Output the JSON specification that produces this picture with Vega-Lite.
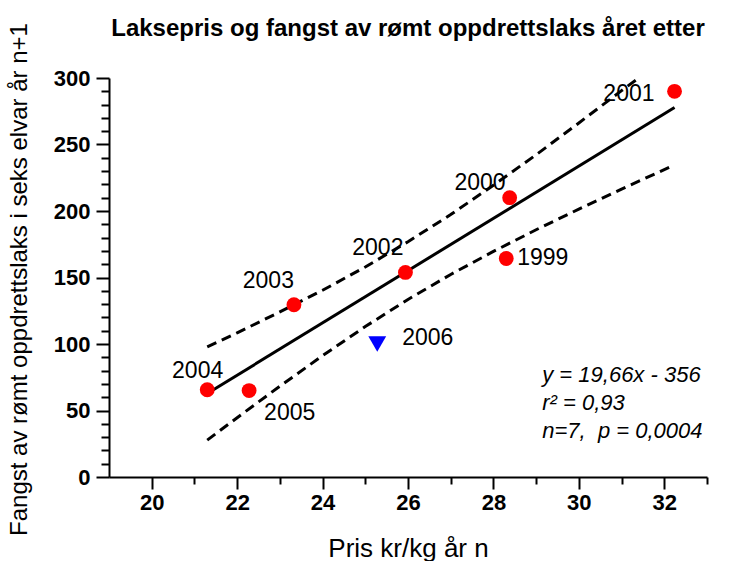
{
  "$schema": "https://vega.github.io/schema/vega-lite/v6.json",
  "width": 598,
  "height": 399,
  "autosize": {"type": "none"},
  "padding": {"left": 109, "top": 78, "right": 31, "bottom": 84},
  "background": "white",
  "title": {
    "text": "Laksepris og fangst av rømt oppdrettslaks året etter",
    "font": "Liberation Sans",
    "fontSize": 24,
    "fontWeight": "bold",
    "color": "black",
    "anchor": "middle",
    "frame": "group",
    "baseline": "alphabetic",
    "offset": -37
  },
  "config": {
    "view": {"stroke": null},
    "axis": {
      "grid": false,
      "domainColor": "black",
      "domainWidth": 2,
      "tickColor": "black",
      "tickWidth": 2,
      "labelColor": "black",
      "labelFont": "Liberation Sans",
      "labelFontWeight": "bold",
      "labelFontSize": 22,
      "labelOverlap": false,
      "titleFont": "Liberation Sans",
      "titleFontWeight": "normal",
      "titleColor": "black"
    }
  },
  "datasets": {
    "points": [
      {"year": "1999", "pris": 28.30, "fangst": 164.3, "gruppe": "1999-2005"},
      {"year": "2000", "pris": 28.38, "fangst": 210.0, "gruppe": "1999-2005"},
      {"year": "2001", "pris": 32.24, "fangst": 290.0, "gruppe": "1999-2005"},
      {"year": "2002", "pris": 25.94, "fangst": 153.8, "gruppe": "1999-2005"},
      {"year": "2003", "pris": 23.33, "fangst": 129.5, "gruppe": "1999-2005"},
      {"year": "2004", "pris": 21.30, "fangst": 65.6, "gruppe": "1999-2005"},
      {"year": "2005", "pris": 22.28, "fangst": 65.0, "gruppe": "1999-2005"},
      {"year": "2006", "pris": 25.28, "fangst": 100.0, "gruppe": "2006"}
    ],
    "fit": [
      {"pris": 21.30, "fangst": 62.8},
      {"pris": 32.24, "fangst": 277.8}
    ],
    "band": [
      {"pris": 21.3, "fangst": 97.9, "grense": "upper"},
      {"pris": 22, "fangst": 108.4, "grense": "upper"},
      {"pris": 23, "fangst": 124.1, "grense": "upper"},
      {"pris": 24, "fangst": 140.4, "grense": "upper"},
      {"pris": 25, "fangst": 157.9, "grense": "upper"},
      {"pris": 26, "fangst": 176.9, "grense": "upper"},
      {"pris": 27, "fangst": 197.3, "grense": "upper"},
      {"pris": 28, "fangst": 219.4, "grense": "upper"},
      {"pris": 29, "fangst": 242.3, "grense": "upper"},
      {"pris": 30, "fangst": 266.2, "grense": "upper"},
      {"pris": 31, "fangst": 290.5, "grense": "upper"},
      {"pris": 31.4, "fangst": 300.0, "grense": "upper"},
      {"pris": 21.3, "fangst": 27.7, "grense": "lower"},
      {"pris": 22, "fangst": 44.6, "grense": "lower"},
      {"pris": 23, "fangst": 68.3, "grense": "lower"},
      {"pris": 24, "fangst": 91.2, "grense": "lower"},
      {"pris": 25, "fangst": 113.1, "grense": "lower"},
      {"pris": 26, "fangst": 133.5, "grense": "lower"},
      {"pris": 27, "fangst": 152.3, "grense": "lower"},
      {"pris": 28, "fangst": 169.6, "grense": "lower"},
      {"pris": 29, "fangst": 185.9, "grense": "lower"},
      {"pris": 30, "fangst": 201.4, "grense": "lower"},
      {"pris": 31, "fangst": 216.5, "grense": "lower"},
      {"pris": 32, "fangst": 231.1, "grense": "lower"},
      {"pris": 32.24, "fangst": 234.6, "grense": "lower"}
    ]
  },
  "encoding": {
    "x": {
      "field": "pris",
      "type": "quantitative",
      "title": "Pris kr/kg år n",
      "scale": {"domain": [19, 33], "nice": false, "zero": false},
      "axis": {
        "titleFontSize": 26,
        "values": [20, 21, 22, 23, 24, 25, 26, 27, 28, 29, 30, 31, 32, 33],
        "labelExpr": "datum.value % 2 === 0 ? datum.label : ''",
        "tickSize": {"condition": {"test": "datum.value % 2 === 0", "value": 12}, "value": 7},
        "labelPadding": 3,
        "titleBaseline": "middle",
        "titleY": 71,
        "titlePadding": 0
      }
    },
    "y": {
      "field": "fangst",
      "type": "quantitative",
      "title": "Fangst av rømt oppdrettslaks i seks elvar år n+1",
      "scale": {"domain": [0, 300], "nice": false},
      "axis": {
        "titleFontSize": 24,
        "values": [0, 10, 20, 30, 40, 50, 60, 70, 80, 90, 100, 110, 120, 130, 140, 150, 160, 170, 180, 190, 200, 210, 220, 230, 240, 250, 260, 270, 280, 290, 300],
        "labelExpr": "datum.value % 50 === 0 ? datum.label : ''",
        "tickSize": {"condition": {"test": "datum.value % 50 === 0", "value": 13}, "value": 8},
        "labelPadding": 6,
        "titleX": -78,
        "titleY": 201,
        "titleAngle": -90,
        "titleBaseline": "bottom",
        "titleAlign": "center"
      }
    }
  },
  "layer": [
    {
      "data": {"name": "band"},
      "mark": {"type": "line", "color": "black", "strokeWidth": 3, "strokeDash": [10, 6], "clip": true},
      "encoding": {"detail": {"field": "grense"}}
    },
    {
      "data": {"name": "fit"},
      "mark": {"type": "line", "color": "black", "strokeWidth": 3},
      "encoding": {}
    },
    {
      "data": {"name": "points"},
      "transform": [{"filter": "datum.gruppe === '1999-2005'"}],
      "mark": {"type": "point", "shape": "circle", "filled": true, "color": "#FF0000", "opacity": 1, "size": 220}
    },
    {
      "data": {"name": "points"},
      "transform": [{"filter": "datum.gruppe === '2006'"}],
      "mark": {"type": "point", "shape": "triangle-down", "filled": true, "color": "#0000FF", "opacity": 1, "size": 320}
    },
    {
      "data": {"name": "points"},
      "transform": [{"filter": "datum.year === '2004'"}],
      "mark": {"type": "text", "font": "Liberation Sans", "fontSize": 23, "align": "right", "baseline": "middle", "dx": 16, "dy": -19, "color": "black"},
      "encoding": {"text": {"field": "year"}}
    },
    {
      "data": {"name": "points"},
      "transform": [{"filter": "datum.year === '2005'"}],
      "mark": {"type": "text", "font": "Liberation Sans", "fontSize": 23, "align": "left", "baseline": "middle", "dx": 15, "dy": 22, "color": "black"},
      "encoding": {"text": {"field": "year"}}
    },
    {
      "data": {"name": "points"},
      "transform": [{"filter": "datum.year === '2003'"}],
      "mark": {"type": "text", "font": "Liberation Sans", "fontSize": 23, "align": "right", "baseline": "middle", "dx": 0, "dy": -24, "color": "black"},
      "encoding": {"text": {"field": "year"}}
    },
    {
      "data": {"name": "points"},
      "transform": [{"filter": "datum.year === '2002'"}],
      "mark": {"type": "text", "font": "Liberation Sans", "fontSize": 23, "align": "right", "baseline": "middle", "dx": -2, "dy": -24, "color": "black"},
      "encoding": {"text": {"field": "year"}}
    },
    {
      "data": {"name": "points"},
      "transform": [{"filter": "datum.year === '2000'"}],
      "mark": {"type": "text", "font": "Liberation Sans", "fontSize": 23, "align": "right", "baseline": "middle", "dx": -4, "dy": -15, "color": "black"},
      "encoding": {"text": {"field": "year"}}
    },
    {
      "data": {"name": "points"},
      "transform": [{"filter": "datum.year === '1999'"}],
      "mark": {"type": "text", "font": "Liberation Sans", "fontSize": 23, "align": "left", "baseline": "middle", "dx": 11, "dy": 0, "color": "black"},
      "encoding": {"text": {"field": "year"}}
    },
    {
      "data": {"name": "points"},
      "transform": [{"filter": "datum.year === '2001'"}],
      "mark": {"type": "text", "font": "Liberation Sans", "fontSize": 23, "align": "right", "baseline": "middle", "dx": -20, "dy": 3, "color": "black"},
      "encoding": {"text": {"field": "year"}}
    },
    {
      "data": {"name": "points"},
      "transform": [{"filter": "datum.year === '2006'"}],
      "mark": {"type": "text", "font": "Liberation Sans", "fontSize": 23, "align": "left", "baseline": "middle", "dx": 25, "dy": -6, "color": "black"},
      "encoding": {"text": {"field": "year"}}
    },
    {
      "data": {"name": "points"},
      "transform": [{"filter": "datum.year === '1999'"}],
      "mark": {"type": "text", "font": "Liberation Sans", "fontSize": 22, "fontStyle": "italic", "align": "left", "baseline": "top", "lineHeight": 28, "dx": 36, "dy": 107, "color": "black"},
      "encoding": {
        "text": {"value": ["y = 19,66x - 356", "r² = 0,93", "n=7,\u00a0\u00a0p = 0,0004"]}
      }
    }
  ]
}
